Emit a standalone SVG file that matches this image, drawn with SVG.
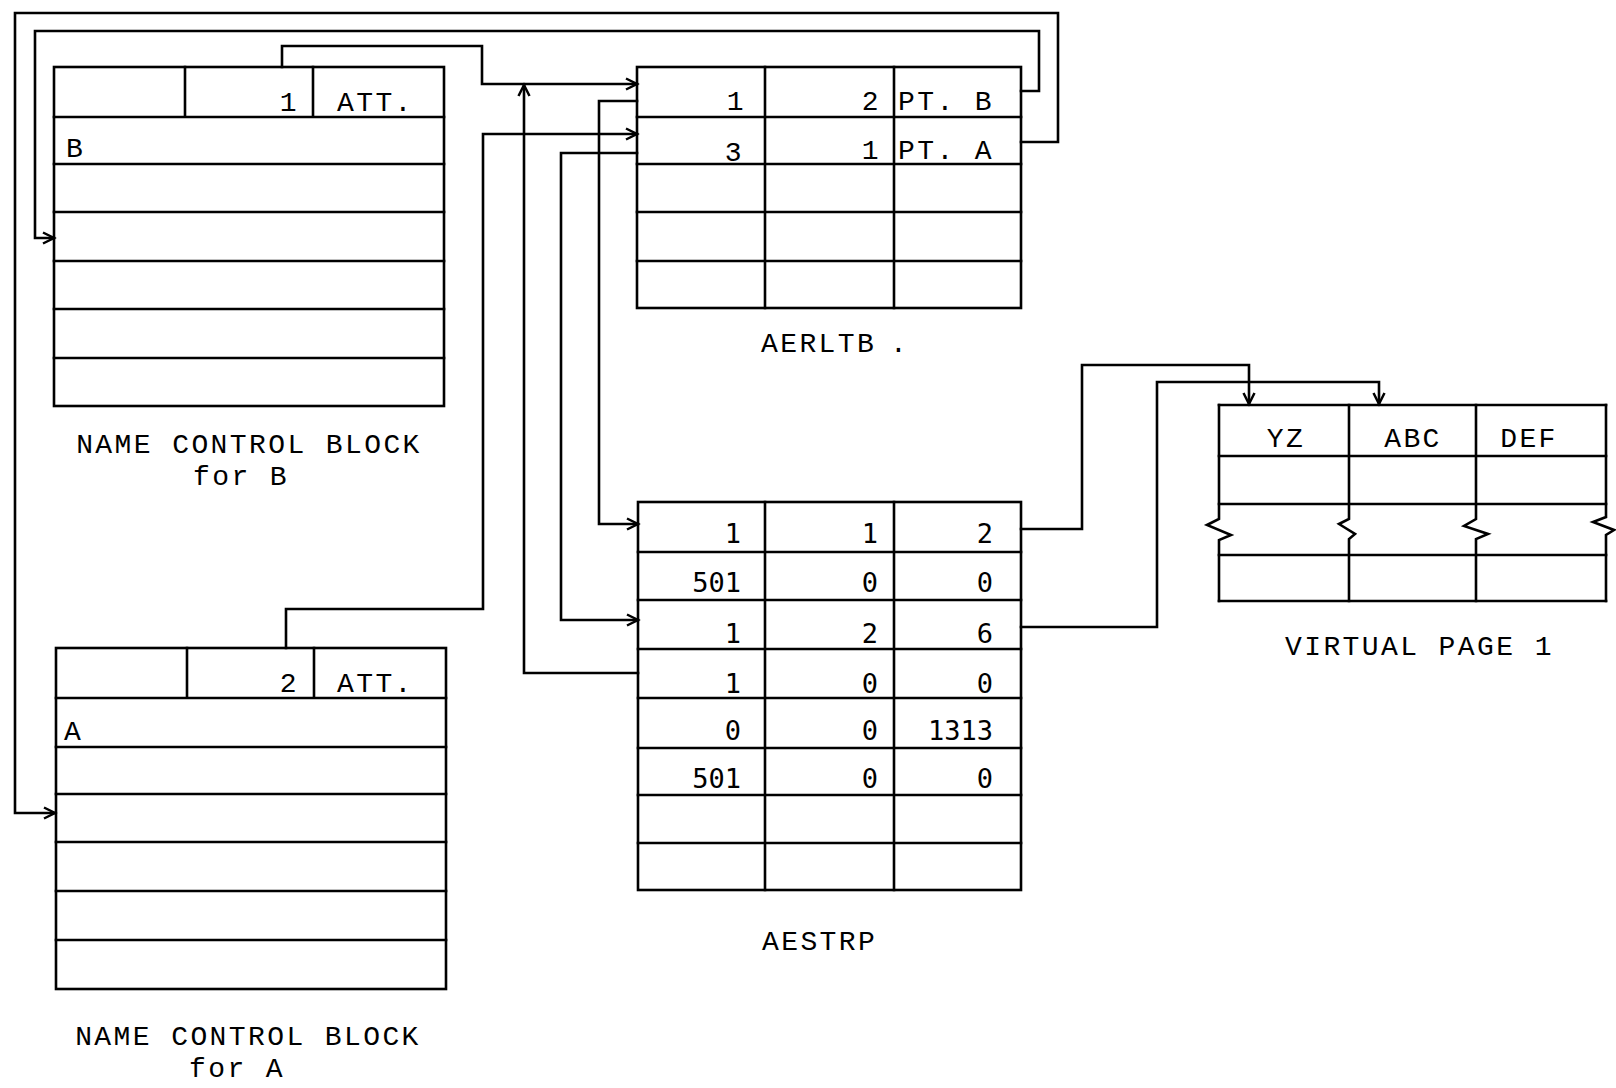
<svg xmlns="http://www.w3.org/2000/svg" width="1616" height="1088" viewBox="0 0 1616 1088">
<style>
  .ln { fill: none; stroke: #000; stroke-width: 2.6; stroke-linecap: square; stroke-linejoin: miter; }
  .tw { font-family: "Liberation Mono", "Courier New", monospace; font-size: 28px; letter-spacing: 2.4px; fill: #000; }
  .nm { font-family: "DejaVu Sans Mono", "Liberation Mono", monospace; font-size: 27px; fill: #000; }
  .r { text-anchor: end; }
  .c { text-anchor: middle; }
</style>
<defs>
  <marker id="arr" markerUnits="userSpaceOnUse" markerWidth="16" markerHeight="16" refX="13" refY="8" orient="auto">
    <path d="M2,2.5 L13,8 L2,13.5" fill="none" stroke="#000" stroke-width="2.5"/>
  </marker>
</defs>
<rect width="1616" height="1088" fill="#fff"/>

<g id="ncb-b">
  <rect class="ln" x="54" y="67" width="390" height="339"/>
  <path class="ln" d="M54,117 H444 M54,164 H444 M54,212 H444 M54,261 H444 M54,309 H444 M54,358 H444 M185,67 V117 M313,67 V117"/>
  <text class="tw r" x="299" y="111">1</text>
  <text class="tw" x="337" y="111">ATT.</text>
  <text class="tw" x="66" y="157">B</text>
  <text class="tw c" x="249" y="453">NAME CONTROL BLOCK</text>
  <text class="tw c" x="241" y="485">for B</text>
</g>

<g id="ncb-a">
  <rect class="ln" x="56" y="648" width="390" height="341"/>
  <path class="ln" d="M56,698 H446 M56,747 H446 M56,794 H446 M56,842 H446 M56,891 H446 M56,940 H446 M187,648 V698 M314,648 V698"/>
  <text class="tw r" x="299" y="692">2</text>
  <text class="tw" x="337" y="692">ATT.</text>
  <text class="tw" x="64" y="740">A</text>
  <text class="tw c" x="248" y="1045">NAME CONTROL BLOCK</text>
  <text class="tw c" x="237" y="1077">for A</text>
</g>

<g id="aerltb">
  <rect class="ln" x="637" y="67" width="384" height="241"/>
  <path class="ln" d="M637,117 H1021 M637,164 H1021 M637,212 H1021 M637,261 H1021 M765,67 V308 M894,67 V308"/>
  <text class="tw r" x="746" y="110">1</text>
  <text class="tw r" x="881" y="110">2</text>
  <text class="tw" x="898" y="110">PT. B</text>
  <text class="tw r" x="744" y="161">3</text>
  <text class="tw r" x="881" y="159">1</text>
  <text class="tw" x="898" y="159">PT. A</text>
  <text class="tw" x="761" y="352">AERLTB<tspan x="890">.</tspan></text>
</g>

<g id="aestrp">
  <rect class="ln" x="638" y="502" width="383" height="388"/>
  <path class="ln" d="M638,552 H1021 M638,600 H1021 M638,649 H1021 M638,698 H1021 M638,748 H1021 M638,795 H1021 M638,843 H1021 M765,502 V890 M894,502 V890"/>
  <text class="nm r" x="741" y="543">1</text>
  <text class="nm r" x="878" y="543">1</text>
  <text class="nm r" x="993" y="543">2</text>
  <text class="nm r" x="741" y="592">501</text>
  <text class="nm r" x="878" y="592">0</text>
  <text class="nm r" x="993" y="592">0</text>
  <text class="nm r" x="741" y="643">1</text>
  <text class="nm r" x="878" y="643">2</text>
  <text class="nm r" x="993" y="643">6</text>
  <text class="nm r" x="741" y="693">1</text>
  <text class="nm r" x="878" y="693">0</text>
  <text class="nm r" x="993" y="693">0</text>
  <text class="nm r" x="741" y="740">0</text>
  <text class="nm r" x="878" y="740">0</text>
  <text class="nm r" x="993" y="740">1313</text>
  <text class="nm r" x="741" y="788">501</text>
  <text class="nm r" x="878" y="788">0</text>
  <text class="nm r" x="993" y="788">0</text>
  <text class="tw" x="762" y="950">AESTRP</text>
</g>

<g id="vpage1">
  <path class="ln" d="M1219,405 H1606 M1219,456 H1606 M1219,504 H1606 M1219,555 H1606 M1219,601 H1606"/>
  <path class="ln" d="M1219,405 V519 L1207,525 L1231,535 L1219,540 V601"/>
  <path class="ln" d="M1349,405 V519 L1339,524 L1355,534 L1349,539 V601"/>
  <path class="ln" d="M1476,405 V519 L1464,526 L1488,534 L1476,539 V601"/>
  <path class="ln" d="M1606,405 V517 L1593,522 L1614,530 L1606,535 V601"/>
  <text class="tw c" x="1286" y="447">YZ</text>
  <text class="tw c" x="1413" y="447">ABC</text>
  <text class="tw c" x="1529" y="447">DEF</text>
  <text class="tw" x="1285" y="655">VIRTUAL PAGE 1</text>
</g>

<g id="connectors">
  <path class="ln" d="M1021,142 H1058 V13 H15 V813 H55" marker-end="url(#arr)"/>
  <path class="ln" d="M1021,91 H1039 V31 H35 V238 H54" marker-end="url(#arr)"/>
  <path class="ln" d="M282,67 V46 H482 V84 H637" marker-end="url(#arr)"/>
  <path class="ln" d="M286,648 V609 H483 V134 H637" marker-end="url(#arr)"/>
  <path class="ln" d="M637,101 H599 V524 H638" marker-end="url(#arr)"/>
  <path class="ln" d="M637,153 H561 V620 H638" marker-end="url(#arr)"/>
  <path class="ln" d="M638,673 H524 V85" marker-end="url(#arr)"/>
  <path class="ln" d="M1021,529 H1082 V365 H1249 V404" marker-end="url(#arr)"/>
  <path class="ln" d="M1021,627 H1157 V382 H1379 V404" marker-end="url(#arr)"/>
</g>
</svg>
